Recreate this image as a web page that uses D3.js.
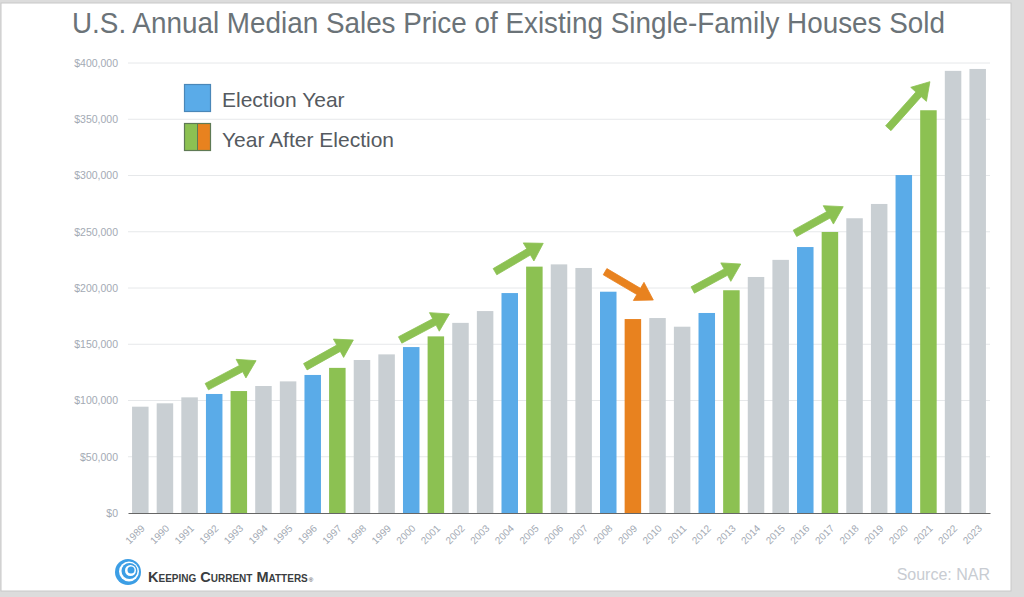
<!DOCTYPE html>
<html><head><meta charset="utf-8">
<script src="https://cdn.jsdelivr.net/npm/d3@7/dist/d3.min.js"></script>
<style>
html,body{margin:0;padding:0;background:#dcdcdc;}
svg{display:block;}
</style></head>
<body>
<svg id="c" width="1024" height="597"></svg>
<script>
// ---- data ----
const years = d3.range(1989, 2024);
const prices = [94500, 97500, 102800, 105800, 108400, 112900, 117000, 122700, 129000, 136000,
  141000, 147500, 157000, 169000, 179500, 195500, 219000, 221000, 217800, 196700,
  172400, 173300, 165600, 177800, 198000, 209800, 225000, 236400, 249800, 262000,
  274700, 300400, 358000, 393000, 394700];
const electionYears = [1992, 1996, 2000, 2004, 2008, 2012, 2016, 2020];
const afterUp = [1993, 1997, 2001, 2005, 2013, 2017, 2021];
const afterDown = [2009];
const yTicks = [0, 50000, 100000, 150000, 200000, 250000, 300000, 350000, 400000];
// annotation arrows in data space: [yearFrom, valueFrom, yearTo, valueTo, kind]
const arrows = [
  [1991.7, 112300, 1993.7, 135400, "up"],
  [1995.7, 130000, 1997.65, 153800, "up"],
  [1999.55, 153800, 2001.55, 176900, "up"],
  [2003.4, 214500, 2005.36, 239700, "up"],
  [2007.87, 214500, 2009.83, 189300, "down"],
  [2011.43, 198200, 2013.38, 221300, "up"],
  [2015.58, 248600, 2017.54, 272300, "up"],
  [2019.37, 342000, 2021.06, 383400, "up"]
];
const legendItems = ["Election Year", "Year After Election"];

// ---- styles ----
const C = {gray:"#c9cfd3", blue:"#5aabe8", green:"#8cc152", orange:"#e8821f"};
const svg = d3.select("#c");
svg.append("rect").attr("x",1).attr("y",3).attr("width",1010).attr("height",588)
  .attr("fill","#fff").attr("stroke","#c8c8c8").attr("stroke-width",1);

const L=128, R=990, T=63, B=513;
const x = d3.scaleBand().domain(years).range([L,R]).paddingInner(0.33).paddingOuter(0.165);
const y = d3.scaleLinear().domain([0,400000]).range([B,T]);
const xc = d3.scaleLinear().domain([1989,2023]).range([x(1989)+x.bandwidth()/2, x(2023)+x.bandwidth()/2]);

// title
svg.append("text").attr("x",72).attr("y",33)
  .attr("font-family","'Liberation Sans Narrow','Liberation Sans',Arial,sans-serif")
  .attr("font-size",29).attr("fill","#6b7378")
  .attr("textLength",873).attr("lengthAdjust","spacingAndGlyphs")
  .text("U.S. Annual Median Sales Price of Existing Single-Family Houses Sold");

// grid
svg.append("g").selectAll("line").data(yTicks.filter(d=>d>0)).join("line")
  .attr("x1",L).attr("x2",R).attr("y1",d=>y(d)).attr("y2",d=>y(d))
  .attr("stroke","#e6e8ea").attr("stroke-width",1);

// y axis labels
const yAxis = d3.axisLeft(y).tickValues(yTicks).tickSize(0).tickPadding(10)
  .tickFormat(d=>"$"+d3.format(",")(d));
const gy = svg.append("g").attr("transform",`translate(${L},0)`).call(yAxis);
gy.select(".domain").remove();
gy.selectAll("text").attr("font-family","'Liberation Sans',Arial,sans-serif")
  .attr("font-size",10.5).attr("fill","#a3aab4");

// bars
function colorFor(yr){
  if(electionYears.includes(yr)) return C.blue;
  if(afterUp.includes(yr)) return C.green;
  if(afterDown.includes(yr)) return C.orange;
  return C.gray;
}
svg.append("g").selectAll("rect").data(years).join("rect")
  .attr("x",d=>x(d)).attr("width",x.bandwidth())
  .attr("y",(d,i)=>y(prices[i])).attr("height",(d,i)=>B-y(prices[i]))
  .attr("fill",d=>colorFor(d));

// x axis
const xAxis = d3.axisBottom(x).tickSize(0).tickPadding(0);
const gx = svg.append("g").attr("transform",`translate(0,${B})`).call(xAxis);
gx.select(".domain").attr("stroke","#666").attr("stroke-width",1.2);
gx.selectAll("text").attr("font-family","'Liberation Sans',Arial,sans-serif")
  .attr("font-size",10).attr("fill","#a3aab4")
  .attr("text-anchor","end").attr("dy",0)
  .attr("transform","translate(5,16) rotate(-45)");

// arrows
function arrowPath(x1,y1,x2,y2){
  const dx=x2-x1, dy=y2-y1, len=Math.hypot(dx,dy);
  const ux=dx/len, uy=dy/len, px=-uy, py=ux;
  const hw=3.6, hl=17, hh=10.5;
  const bx=x2-ux*hl, by=y2-uy*hl;
  const pts=[[x1+px*hw,y1+py*hw],[bx+px*hw,by+py*hw],[bx+px*hh,by+py*hh],[x2,y2],
    [bx-px*hh,by-py*hh],[bx-px*hw,by-py*hw],[x1-px*hw,y1-py*hw]];
  return "M"+pts.map(p=>p.join(",")).join("L")+"Z";
}
svg.append("g").selectAll("path").data(arrows).join("path")
  .attr("d",a=>arrowPath(xc(a[0]),y(a[1]),xc(a[2]),y(a[3])))
  .attr("fill",a=>a[4]==="up"?C.green:C.orange)
  .attr("stroke",a=>a[4]==="up"?C.green:C.orange).attr("stroke-width",0.8)
  .attr("stroke-linejoin","round");

// legend
const lg = svg.append("g");
lg.append("rect").attr("x",184.5).attr("y",84.5).attr("width",26).attr("height",27)
  .attr("fill",C.blue).attr("stroke","#4a87b8").attr("stroke-width",1.2);
lg.append("rect").attr("x",184.5).attr("y",123.5).attr("width",13).attr("height",27)
  .attr("fill",C.green);
lg.append("rect").attr("x",197.5).attr("y",123.5).attr("width",13).attr("height",27)
  .attr("fill",C.orange);
lg.append("rect").attr("x",184.5).attr("y",123.5).attr("width",26).attr("height",27)
  .attr("fill","none").attr("stroke","#5f7a55").attr("stroke-width",1.2);
lg.append("line").attr("x1",197.5).attr("x2",197.5).attr("y1",123.5).attr("y2",150.5)
  .attr("stroke","#5f7a55").attr("stroke-width",1);
lg.selectAll("text").data(legendItems).join("text")
  .attr("x",222).attr("y",(d,i)=>107+i*40)
  .attr("font-family","'Liberation Sans',Arial,sans-serif").attr("font-size",21)
  .attr("fill","#555a60").text(d=>d);

// footer logo
const logo = svg.append("g").attr("transform","translate(128,572)");
logo.append("circle").attr("r",13).attr("fill","#3c9ee5");
logo.append("circle").attr("r",10).attr("cx",1).attr("cy",-0.5).attr("fill","#fff");
logo.append("circle").attr("r",8).attr("cx",1.5).attr("cy",-1).attr("fill","#3c9ee5");
logo.append("circle").attr("r",5.5).attr("cx",2.5).attr("cy",-1.5).attr("fill","#fff");
logo.append("circle").attr("r",3.5).attr("cx",3).attr("cy",-2).attr("fill","#3c9ee5");
const brand = svg.append("text").attr("x",148).attr("y",582)
  .attr("font-family","'Liberation Sans',Arial,sans-serif")
  .attr("fill","#3a3d40");
brand.append("tspan").attr("font-size",14.5).attr("font-weight","bold")
  .style("font-variant","small-caps")
  .text("Keeping Current Matters");
brand.append("tspan").attr("font-size",6).attr("dx",1).text("®");
svg.append("text").attr("x",990).attr("y",580).attr("text-anchor","end")
  .attr("font-family","'Liberation Sans',Arial,sans-serif").attr("font-size",16)
  .attr("fill","#c8ccd2").text("Source: NAR");
</script>
</body></html>
